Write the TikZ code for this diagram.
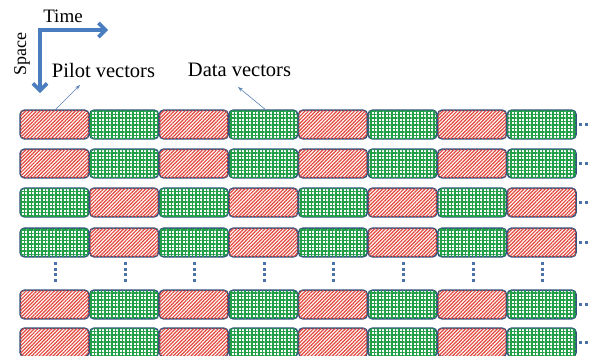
\documentclass[tikz,border=0pt]{standalone}
\usepackage{fontspec}
\setmainfont{Liberation Serif}
\usetikzlibrary{patterns.meta,arrows.meta}
\definecolor{axisblue}{HTML}{4A7DBF}
\definecolor{boxedge}{HTML}{34557F}
\definecolor{pilotred}{HTML}{E4473B}
\definecolor{datagreen}{HTML}{22A048}
\definecolor{thinblue}{HTML}{5B80B4}
\definecolor{dotblue}{HTML}{4A72A8}
\tikzset{
  vbox/.style={draw=boxedge,line width=1.6pt,rounded corners=4pt,fill=white,
    minimum width=68.5pt,minimum height=28.5pt,inner sep=0pt},
  pilotbox/.style={vbox,postaction={pattern={Lines[angle=45,distance=2.5pt,line width=1.2pt]},pattern color=pilotred}},
  databox/.style={vbox,postaction={pattern={Hatch[angle=0,distance=3.5pt,line width=1.05pt]},pattern color=datagreen}},
  axisarrow/.style={draw=axisblue,line width=3.6pt,-{Straight Barb[length=7pt,width=14pt]}},
  thinarrow/.style={draw=thinblue,line width=0.6pt,-{Stealth[length=5pt,width=3.5pt]}},
  lbl/.style={inner sep=0pt,font=\fontsize{20.5}{24}\selectfont},
  vdot/.style={fill=dotblue},
}
\begin{document}
\begin{tikzpicture}[x=1pt,y=-1pt]
\useasboundingbox (0,0) rectangle (592,356);
% axes
\coordinate (o) at (40,30);
\coordinate (tE) at (108,30);
\coordinate (sE) at (40,93);
\draw[axisarrow] (o) -- (tE);
\draw[axisarrow] ([yshift=1.8pt]o) -- (sE);
\node[inner sep=0pt,font=\fontsize{19}{22}\selectfont] (time) at (63,16.5) {Time};
\node[inner sep=0pt,rotate=90,font=\fontsize{18}{22}\selectfont] (space) at (22,54) {Space};
\node[lbl] (pilot) at (103.5,70) {Pilot vectors};
\node[lbl] (data) at (239.5,70) {Data vectors};
% boxes
\foreach \r/\top/\odd in {1/110/p,2/149/p,3/188/d,4/228/d,5/290/p,6/328/p}{
  \foreach \c in {1,...,8}{
    \pgfmathsetmacro{\cx}{20+69.6*(\c-1)+34.5}
    \pgfmathsetmacro{\cy}{\top+14.5}
    \pgfmathtruncatemacro{\isodd}{mod(\c,2)}
    \ifnum\isodd=1
      \if p\odd \def\sty{pilotbox}\else \def\sty{databox}\fi
    \else
      \if p\odd \def\sty{databox}\else \def\sty{pilotbox}\fi
    \fi
    \node[\sty] (b-\r-\c) at (\cx,\cy) {};
  }
  \fill[dotblue] ([xshift=2pt,yshift=1.5pt]b-\r-8.east) rectangle ++(3,3);
  \fill[dotblue] ([xshift=8.5pt,yshift=1.5pt]b-\r-8.east) rectangle ++(3,3);
}
% vertical ellipsis dots between rows 4 and 5
\foreach \c in {1,...,8}{
  \foreach \k in {0,1,2,3}{
    \fill[vdot] ([xshift=1pt,yshift=-6pt-5.5pt*\k]b-4-\c.south) ++(-1.5,-1.5) rectangle ++(3,3);
  }
}
% pointer arrows
\coordinate (pt) at (80,85);
\coordinate (dt) at (238,87);
\draw[thinarrow] ([xshift=1pt]b-1-1.north) -- (pt);
\draw[thinarrow] ([xshift=2pt]b-1-4.north) -- (dt);
\end{tikzpicture}
\end{document}
